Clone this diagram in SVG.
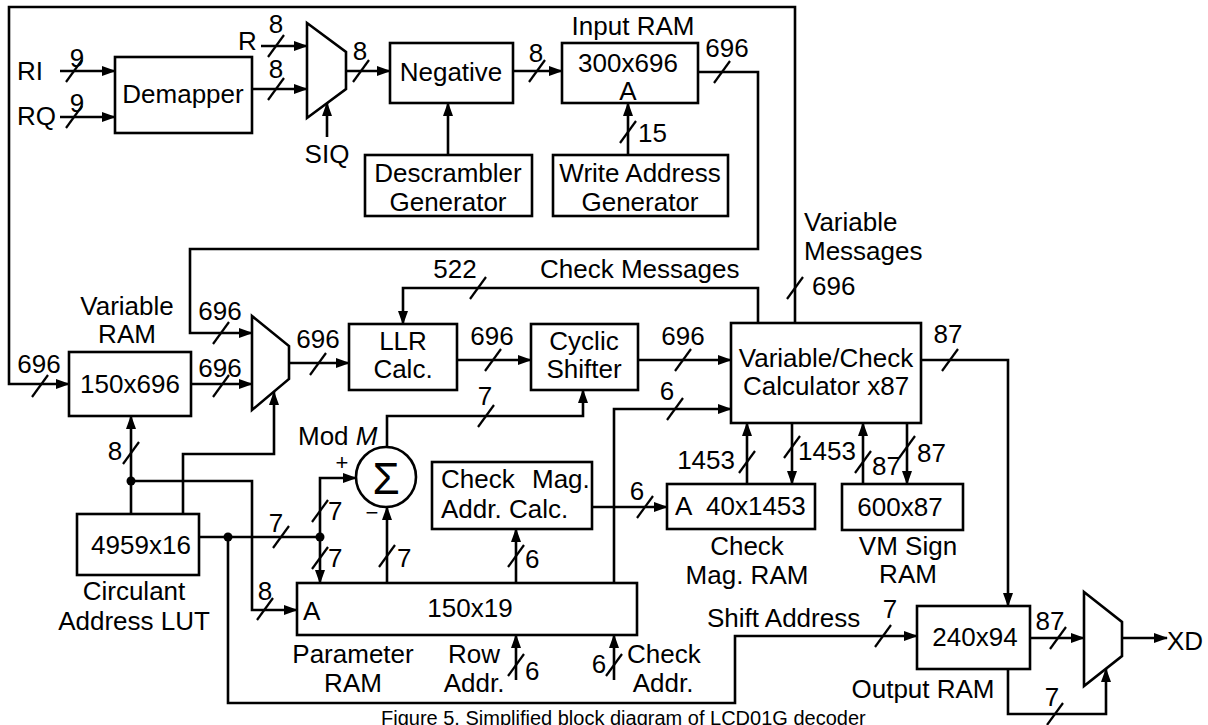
<svg xmlns="http://www.w3.org/2000/svg" xmlns:xlink="http://www.w3.org/1999/xlink" width="1208" height="725" viewBox="0 0 1208 725">
<style>
.box{fill:#fff;stroke:#000;stroke-width:2.6}
.w{fill:none;stroke:#000;stroke-width:2.6}
.a{marker-end:url(#ah)}
.sl{stroke:#000;stroke-width:2.2}
text{font-family:"Liberation Sans",Arial,sans-serif;font-size:26px;fill:#000}
.m{text-anchor:middle}
.e{text-anchor:end}
</style>
<defs>
<marker id="ah" markerWidth="14" markerHeight="10" refX="13" refY="5" orient="auto" markerUnits="userSpaceOnUse"><path d="M0,0 L14,5 L0,10 z" fill="#000"/></marker>
<path id="s" class="sl" d="M-8,11 L8,-11"/>
</defs>
<rect width="1208" height="725" fill="#fff"/>

<g id="connectors">
<path class="w a" d="M60,71 H115"/>
<path class="w a" d="M60,117 H115"/>
<path class="w a" d="M261,46 H307"/>
<path class="w a" d="M252,89 H307"/>
<path class="w a" d="M346,71 H390"/>
<path class="w a" d="M327,137 V103"/>
<path class="w a" d="M448,155 V103"/>
<path class="w a" d="M513,71 H562"/>
<path class="w a" d="M628,155 V103"/>
<path class="w a" d="M698,72 H758 V249 H190 V333 H252"/>
<path class="w a" d="M795,323 V7 H9 V384 H69"/>
<path class="w a" d="M191,384 H252"/>
<path class="w a" d="M289,363 H349"/>
<path class="w a" d="M457,360 H531"/>
<path class="w a" d="M638,360 H731"/>
<path class="w a" d="M758,323 V288 H403 V324"/>
<path class="w a" d="M131,514 V416"/>
<path class="w a" d="M183,514 V454 H274 V392"/>
<path class="w a" d="M131,481 H252 V610 H297"/>
<path class="w" d="M199,537 H320"/>
<path class="w a" d="M320,537 V478 H356"/>
<path class="w a" d="M320,537 V583"/>
<path class="w a" d="M387,583 V507"/>
<path class="w a" d="M387,447 V416 H583 V390"/>
<path class="w a" d="M516,583 V529"/>
<path class="w a" d="M614,583 V409 H731"/>
<path class="w a" d="M592,507 H667"/>
<path class="w a" d="M516,680 V635"/>
<path class="w a" d="M614,680 V635"/>
<path class="w a" d="M747,484 V423"/>
<path class="w a" d="M792,423 V484"/>
<path class="w a" d="M863,484 V423"/>
<path class="w a" d="M907,423 V484"/>
<path class="w a" d="M921,360 H1008 V606"/>
<path class="w a" d="M1030,638 H1084"/>
<path class="w a" d="M1122,638 H1167"/>
<path class="w a" d="M1008,669 V714 H1106 V669"/>
<path class="w a" d="M228,537 V703 H735 V636 H917"/>
<circle cx="131" cy="481" r="4.5"/>
<circle cx="228" cy="537" r="4.5"/>
<circle cx="320" cy="537" r="4.5"/>
<use xlink:href="#s" x="74" y="71"/>
<use xlink:href="#s" x="74" y="117"/>
<use xlink:href="#s" x="276" y="46"/>
<use xlink:href="#s" x="276" y="89"/>
<use xlink:href="#s" x="361" y="71"/>
<use xlink:href="#s" x="537" y="71"/>
<use xlink:href="#s" x="628" y="132"/>
<use xlink:href="#s" x="722" y="72"/>
<use xlink:href="#s" x="221" y="333"/>
<use xlink:href="#s" x="795" y="288"/>
<use xlink:href="#s" x="40" y="386"/>
<use xlink:href="#s" x="221" y="386"/>
<use xlink:href="#s" x="318" y="364"/>
<use xlink:href="#s" x="493" y="360"/>
<use xlink:href="#s" x="683" y="360"/>
<use xlink:href="#s" x="478" y="288"/>
<use xlink:href="#s" x="131" y="453"/>
<use xlink:href="#s" x="265" y="609"/>
<use xlink:href="#s" x="281" y="537"/>
<use xlink:href="#s" x="320" y="511"/>
<use xlink:href="#s" x="320" y="558"/>
<use xlink:href="#s" x="387" y="556"/>
<use xlink:href="#s" x="486" y="416"/>
<use xlink:href="#s" x="516" y="556"/>
<use xlink:href="#s" x="675" y="409"/>
<use xlink:href="#s" x="645" y="507"/>
<use xlink:href="#s" x="516" y="665"/>
<use xlink:href="#s" x="614" y="665"/>
<use xlink:href="#s" x="747" y="462"/>
<use xlink:href="#s" x="792" y="447"/>
<use xlink:href="#s" x="863" y="462"/>
<use xlink:href="#s" x="907" y="447"/>
<use xlink:href="#s" x="950" y="360"/>
<use xlink:href="#s" x="1058" y="638"/>
<use xlink:href="#s" x="1055" y="714"/>
<use xlink:href="#s" x="883" y="636"/>
</g>

<g id="labels">
<text x="17" y="80">RI</text>
<text x="17" y="125">RQ</text>
<text class="m" x="77" y="67">9</text>
<text class="m" x="77" y="112">9</text>
<text x="238" y="50">R</text>
<text class="m" x="276" y="33">8</text>
<text class="m" x="276" y="78">8</text>
<text class="m" x="360" y="60">8</text>
<text class="m" x="327" y="163">SIQ</text>
<text class="m" x="536" y="62">8</text>
<text class="m" x="633" y="35">Input RAM</text>
<text class="m" x="727" y="57">696</text>
<text x="638" y="142">15</text>
<text x="804" y="231">Variable</text>
<text x="804" y="260">Messages</text>
<text x="812" y="295">696</text>
<text class="m" x="127" y="315">Variable</text>
<text class="m" x="127" y="343">RAM</text>
<text class="m" x="220" y="320">696</text>
<text class="m" x="39" y="373">696</text>
<text class="m" x="220" y="377">696</text>
<text class="m" x="318" y="348">696</text>
<text class="m" x="492" y="345">696</text>
<text class="m" x="683" y="345">696</text>
<text class="m" x="455" y="278">522</text>
<text x="540" y="278">Check Messages</text>
<text class="m" x="948" y="343">87</text>
<text class="m" x="115" y="460">8</text>
<text x="298" y="445">Mod <tspan font-style="italic">M</tspan></text>
<text class="m" x="342" y="470" style="font-size:22px">+</text>
<text class="m" x="372" y="520" style="font-size:22px">−</text>
<text class="m" x="276" y="532">7</text>
<text x="328" y="520">7</text>
<text x="328" y="567">7</text>
<text x="397" y="567">7</text>
<text class="m" x="485" y="405">7</text>
<text x="525" y="568">6</text>
<text class="m" x="667" y="400">6</text>
<text class="m" x="637" y="500">6</text>
<text class="m" x="747" y="555">Check</text>
<text class="m" x="747" y="584">Mag. RAM</text>
<text class="e" x="735" y="469">1453</text>
<text x="798" y="460">1453</text>
<text x="872" y="475">87</text>
<text x="917" y="462">87</text>
<text class="m" x="908" y="555">VM Sign</text>
<text class="m" x="908" y="583">RAM</text>
<text class="m" x="134" y="600">Circulant</text>
<text class="m" x="134" y="630">Address LUT</text>
<text class="m" x="265" y="600">8</text>
<text class="m" x="353" y="663">Parameter</text>
<text class="m" x="353" y="692">RAM</text>
<text class="m" x="474" y="663">Row</text>
<text class="m" x="474" y="692">Addr.</text>
<text x="525" y="680">6</text>
<text class="m" x="599" y="673">6</text>
<text x="627" y="663">Check</text>
<text class="m" x="663" y="692">Addr.</text>
<text x="707" y="627">Shift Address</text>
<text class="m" x="890" y="618">7</text>
<text class="m" x="923" y="698">Output RAM</text>
<text class="m" x="1050" y="630">87</text>
<text x="1167" y="650">XD</text>
<text class="m" x="1052" y="706">7</text>
<text x="381" y="725" style="font-size:20px">Figure 5. Simplified block diagram of LCD01G decoder</text>
</g>

<g id="demapper"><rect class="box" x="115" y="57" width="137" height="76"/><text class="m" x="183" y="103">Demapper</text></g>
<g id="mux1"><polygon class="box" points="307,23 346,52 346,89 307,118"/></g>
<g id="negative"><rect class="box" x="390" y="43" width="123" height="60"/><text class="m" x="451" y="81">Negative</text></g>
<g id="descrambler"><rect class="box" x="365" y="155" width="167" height="61"/><text class="m" x="448" y="182">Descrambler</text><text class="m" x="448" y="211">Generator</text></g>
<g id="input-ram"><rect class="box" x="562" y="43" width="136" height="60"/><text class="m" x="628" y="72">300x696</text><text class="m" x="628" y="100">A</text></g>
<g id="write-addr"><rect class="box" x="553" y="155" width="175" height="61"/><text class="m" x="640" y="182">Write Address</text><text class="m" x="640" y="211">Generator</text></g>
<g id="variable-ram"><rect class="box" x="69" y="352" width="122" height="64"/><text class="m" x="130" y="393">150x696</text></g>
<g id="mux2"><polygon class="box" points="252,316 289,346 289,379 252,410"/></g>
<g id="llr"><rect class="box" x="349" y="324" width="108" height="66"/><text class="m" x="403" y="350">LLR</text><text class="m" x="403" y="378">Calc.</text></g>
<g id="shifter"><rect class="box" x="531" y="324" width="107" height="66"/><text class="m" x="584" y="350">Cyclic</text><text class="m" x="584" y="378">Shifter</text></g>
<g id="vc-calc"><rect class="box" x="731" y="323" width="190" height="100"/><text class="m" x="826" y="367">Variable/Check</text><text class="m" x="826" y="395">Calculator x87</text></g>
<g id="sum"><circle class="box" cx="386" cy="477" r="30"/><text class="m" x="386" y="494" style="font-size:44px">Σ</text></g>
<g id="cm-addr"><rect class="box" x="432" y="462" width="160" height="67"/><text x="441" y="488">Check</text><text x="532" y="488">Mag.</text><text x="441" y="518">Addr. Calc.</text></g>
<g id="cm-ram"><rect class="box" x="667" y="484" width="148" height="45"/><text x="675" y="515">A</text><text x="706" y="515">40x1453</text></g>
<g id="vm-sign"><rect class="box" x="842" y="484" width="121" height="46"/><text class="m" x="900" y="516">600x87</text></g>
<g id="lut"><rect class="box" x="77" y="514" width="122" height="61"/><text class="m" x="141" y="554">4959x16</text></g>
<g id="param-ram"><rect class="box" x="297" y="583" width="340" height="52"/><text x="303" y="620">A</text><text class="m" x="470" y="617">150x19</text></g>
<g id="output-ram"><rect class="box" x="917" y="606" width="113" height="63"/><text class="m" x="975" y="646">240x94</text></g>
<g id="mux3"><polygon class="box" points="1084,592 1122,622 1122,656 1084,686"/></g>
</svg>
